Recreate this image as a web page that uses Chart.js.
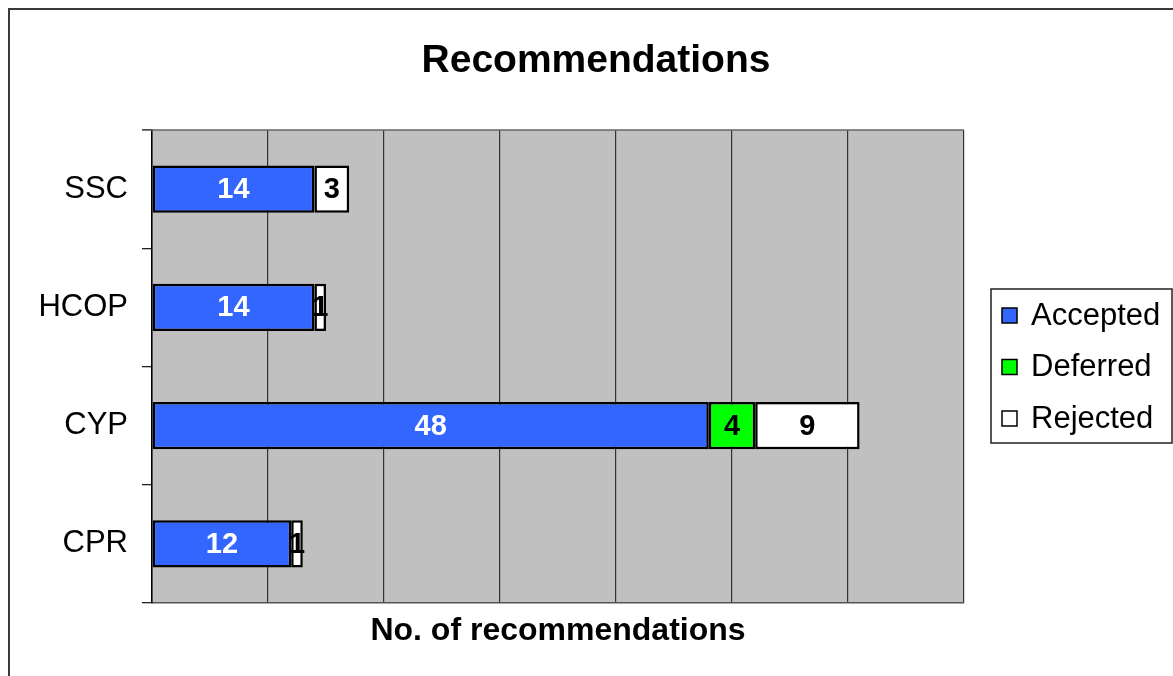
<!DOCTYPE html>
<html>
<head>
<meta charset="utf-8">
<style>
  html, body { margin: 0; padding: 0; background: #fff; }
  #wrap { width: 1173px; height: 676px; position: relative; }
</style>
<script src="https://cdn.jsdelivr.net/npm/chart.js@4/dist/chart.umd.min.js"></script>
</head>
<body>
<div id="wrap"><canvas id="recChart" width="1173" height="676"></canvas></div>
<script>
const categories = ['SSC', 'HCOP', 'CYP', 'CPR'];
const accepted = [14, 14, 48, 12];
const deferred = [null, null, 4, null];
const rejected = [3, 1, 9, 1];
const seriesNames = ['Accepted', 'Deferred', 'Rejected'];
const seriesColors = ['#3366ff', '#00ff00', '#ffffff'];
const labelColors = ['#ffffff', '#000000', '#000000'];

const fontFamily = '"Liberation Sans", Arial, sans-serif';

// grey plot background, frame and top line of the plot
const backdrop = {
  id: 'backdrop',
  beforeDraw(chart) {
    const { ctx, chartArea: a } = chart;
    ctx.save();
    ctx.strokeStyle = '#3a3a3a';
    ctx.lineWidth = 2;
    ctx.strokeRect(9, 9, 1200, 700);
    ctx.fillStyle = '#c0c0c0';
    ctx.fillRect(a.left, a.top, a.right - a.left, a.bottom - a.top);
    ctx.restore();
  },
  afterDraw(chart) {
    const { ctx, chartArea: a } = chart;
    ctx.save();
    ctx.strokeStyle = '#666';
    ctx.lineWidth = 1.5;
    ctx.beginPath();
    ctx.moveTo(a.left - 10, a.top);
    ctx.lineTo(a.right, a.top);
    ctx.stroke();

    // title
    ctx.fillStyle = '#000';
    ctx.font = 'bold 39px ' + fontFamily;
    ctx.textAlign = 'center';
    ctx.textBaseline = 'alphabetic';
    ctx.fillText('Recommendations', (a.left + a.right) / 2 + 38, 72);

    // legend
    const lx = a.right + 27, ly = 289, lw = 181, lh = 154;
    ctx.strokeStyle = '#222';
    ctx.lineWidth = 1.5;
    ctx.strokeRect(lx, ly, lw, lh);
    ctx.font = '31px ' + fontFamily;
    ctx.textAlign = 'left';
    ctx.textBaseline = 'middle';
    seriesNames.forEach((name, i) => {
      const cy = 315 + i * 51.5;
      ctx.fillStyle = seriesColors[i];
      ctx.fillRect(lx + 11, cy - 7, 15, 15);
      ctx.strokeStyle = '#000';
      ctx.lineWidth = 1.5;
      ctx.strokeRect(lx + 11, cy - 7, 15, 15);
      ctx.fillStyle = '#000';
      ctx.fillText(name, lx + 40, cy + 1);
    });
    ctx.restore();
  }
};

// value labels in the middle of each segment
const valueLabels = {
  id: 'valueLabels',
  afterDatasetsDraw(chart) {
    const { ctx } = chart;
    ctx.save();
    ctx.font = 'bold 29px ' + fontFamily;
    ctx.textAlign = 'center';
    ctx.textBaseline = 'middle';
    chart.data.datasets.forEach((ds, di) => {
      const meta = chart.getDatasetMeta(di);
      meta.data.forEach((bar, i) => {
        const v = ds.data[i];
        if (v === null || v === undefined) return;
        const p = bar.getCenterPoint();
        ctx.fillStyle = labelColors[di];
        ctx.fillText(String(v), p.x, p.y + 1);
      });
    });
    ctx.restore();
  }
};

new Chart(document.getElementById('recChart'), {
  type: 'bar',
  data: {
    labels: categories,
    datasets: [accepted, deferred, rejected].map((d, i) => ({
      label: seriesNames[i],
      data: d,
      backgroundColor: seriesColors[i],
      borderColor: '#000',
      borderWidth: 2.5,
      borderSkipped: false,
      barPercentage: 0.4,
      categoryPercentage: 1
    }))
  },
  options: {
    indexAxis: 'y',
    responsive: false,
    animation: false,
    layout: { padding: { top: 130, right: 209, left: 0, bottom: 0 } },
    scales: {
      x: {
        stacked: true,
        min: 0,
        max: 70,
        ticks: { display: false, stepSize: 10 },
        grid: { color: '#333', lineWidth: 1.2, drawTicks: false },
        border: { color: '#555', width: 1.5 },
        title: {
          display: true,
          text: 'No. of recommendations',
          color: '#000',
          font: { family: fontFamily, size: 32, weight: 'bold' },
          padding: { top: 0, bottom: 26 }
        },
        afterFit(s) { s.height = 73; }
      },
      y: {
        stacked: true,
        ticks: {
          color: '#000',
          padding: 14,
          font: { family: fontFamily, size: 31 }
        },
        grid: { drawOnChartArea: false, drawTicks: true, tickLength: 10, color: '#222', lineWidth: 1.3 },
        border: { color: '#000', width: 1.5 },
        afterFit(s) { s.width = 152; }
      }
    },
    plugins: {
      legend: { display: false },
      title: { display: false },
      tooltip: { enabled: false }
    }
  },
  plugins: [backdrop, valueLabels]
});
</script>
</body>
</html>
